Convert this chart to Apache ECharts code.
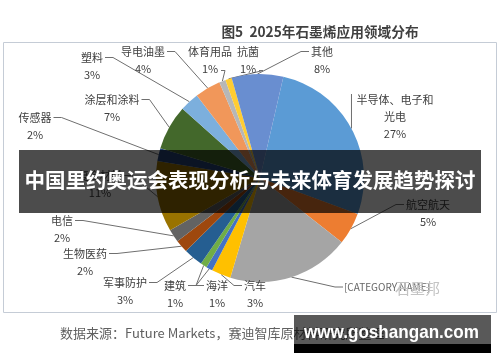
<!DOCTYPE html>
<html><head><meta charset="utf-8">
<script src="https://cdn.jsdelivr.net/npm/echarts@6/dist/echarts.min.js"></script>
<style>html,body{margin:0;padding:0;background:#fff}#c{width:500px;height:362px}</style>
</head><body><div id="c"></div>
<script>
const categories = ['半导体、电子和光电','航空航天','[CATEGORY NAME]','汽车','海洋','建筑','军事防护','生物医药','电信','复合材料','传感器','涂层和涂料','塑料','导电油墨','体育用品','抗菌','其他'];
const labelNames = ['半导体、电子和\n光电','航空航天','[CATEGORY NAME]','汽车','海洋','建筑','军事防护','生物医药','电信','复合材料','传感器','涂层和涂料','塑料','导电油墨','体育用品','抗菌','其他'];
const values = [27,5,19,3,1,1,3,2,2,11,2,7,3,4,1,1,8];
const showPercent = [true,true,false,true,true,true,true,true,true,true,true,true,true,true,true,true,true];
const colors = ['#5B9BD5','#ED7D31','#A5A5A5','#FFC000','#4472C4','#70AD47','#255E91','#9E480E','#636363','#997300','#264478','#43682B','#7CAFDD','#F1975A','#B7B7B7','#FFCD33','#698ED0'];
// label layout (block centres and leader-line attach side)
const labelPos = [[395,117],[428,213],[387,287],[255,294],[217,294],[175,294],[125,291],[85,262],[62,229],[100,184],[35,126],[112,108],[92,66],[143,60],[210,60],[248,60],[322,60]];
const lineSide = ['V','L','L','L','L','R','R','R','R','R','R','R','R','R','PR','PR','L'];

const CX = 260, CY = 178, R = 104, START = 77, LH = 17;
const total = values.reduce((a,b)=>a+b,0);
const cum = []; values.reduce((a,v,i)=>{cum[i]=a; return a+v;},0);

function edgePoint(i){
  const a = (START - (cum[i] + values[i]/2)/total*360) * Math.PI/180;
  return [CX + R*Math.cos(a), CY - R*Math.sin(a)];
}

const chart = echarts.init(document.getElementById('c'), null, {renderer:'canvas'});
const data = categories.map((c,i)=>({
  name:c, value:values[i], itemStyle:{color:colors[i]},
  label:{formatter: showPercent[i] ? labelNames[i]+'\n'+values[i]+'%' : labelNames[i],
         fontSize: i===2?10:11, color: i===2?'#666':'#404040'}
}));

// watermark text fit
const mc = document.createElement('canvas').getContext('2d');
mc.font = 'bold 19px "Liberation Sans"';
const wmW = mc.measureText('www.goshangan.com').width;
const wmScale = 175 / wmW;

chart.setOption({
  animation:false,
  title:{text:'图5  2025年石墨烯应用领域分布', left:315, top:20, textAlign:'center',
    textStyle:{fontSize:13.7, fontWeight:'bold', color:'#404040', fontFamily:'Noto Sans CJK SC'}},
  graphic:[
    {type:'rect', shape:{x:3.5,y:42.5,width:493,height:270}, style:{fill:'none', stroke:'#c5ccd6', lineWidth:1}, z:-1},
    {type:'text', left:395, top:281, style:{text:'石墨邦', fill:'#c4c4c4', font:'15px "Noto Sans CJK SC"'}, z:5},
    {type:'text', left:60, top:327, style:{text:'数据来源：Future Markets，赛迪智库原材料研究所整理', fill:'#606060', font:'13px "Noto Sans CJK SC"'}},
    {type:'rect', shape:{x:19,y:150,width:462,height:63}, style:{fill:'rgba(0,0,0,0.7)'}, z:10},
    {type:'text', left:'center', top:170, style:{text:'中国里约奥运会表现分析与未来体育发展趋势探讨', fill:'#fff', font:'bold 20.5px "Noto Sans CJK SC"'}, z:11},
    {type:'rect', shape:{x:294,y:315,width:197,height:29}, style:{fill:'rgba(0,0,0,0.65)'}, z:10},
    {type:'rect', shape:{x:294,y:344,width:197,height:9}, style:{fill:'#000'}, z:10},
    {type:'text', x:304, y:342, scaleX:wmScale, style:{text:'www.goshangan.com', fill:'#fff', font:'bold 19px "Liberation Sans"', verticalAlign:'bottom'}, z:11}
  ],
  series:[{
    type:'pie', center:[CX,CY], radius:R, startAngle:START, clockwise:true,
    data:data,
    label:{show:true, position:'outside', align:'center', lineHeight:LH, fontFamily:'Noto Sans CJK SC'},
    labelLine:{show:true, length:10, length2:10, lineStyle:{color:'#6f6f6f', width:1}},
    labelLayout:function(p){
      const i = p.dataIndex;
      const pos = labelPos[i];
      const fs = i===2?10:11;
      const lines = labelNames[i].split('\n').length + (showPercent[i]?1:0);
      const h = lines*LH;
      const first = labelNames[i].split('\n')[0];
      const nameW = i===2 ? 84 : first.length*fs;
      const row0 = pos[1] - h/2 + LH/2;
      const rowLast = pos[1] + h/2 - LH/2;
      const p0 = edgePoint(i);
      let pts;
      const s = lineSide[i];
      if (s==='V') pts = [p0, p0, [p0[0], row0 - 6]];
      else if (s==='R') { const A=[pos[0]+nameW/2+2,row0]; pts=[p0,[A[0]+8,A[1]],A]; }
      else if (s==='L') { const A=[pos[0]-nameW/2-2,row0]; pts=[p0,[A[0]-8,A[1]],A]; }
      else { const A=[pos[0]+11,rowLast+2]; pts=[p0,[A[0]+4,A[1]],A]; }
      return {x:pos[0], y:pos[1], align:'center', verticalAlign:'middle', labelLinePoints:pts};
    },
    emphasis:{disabled:true}
  }]
});
</script></body></html>
